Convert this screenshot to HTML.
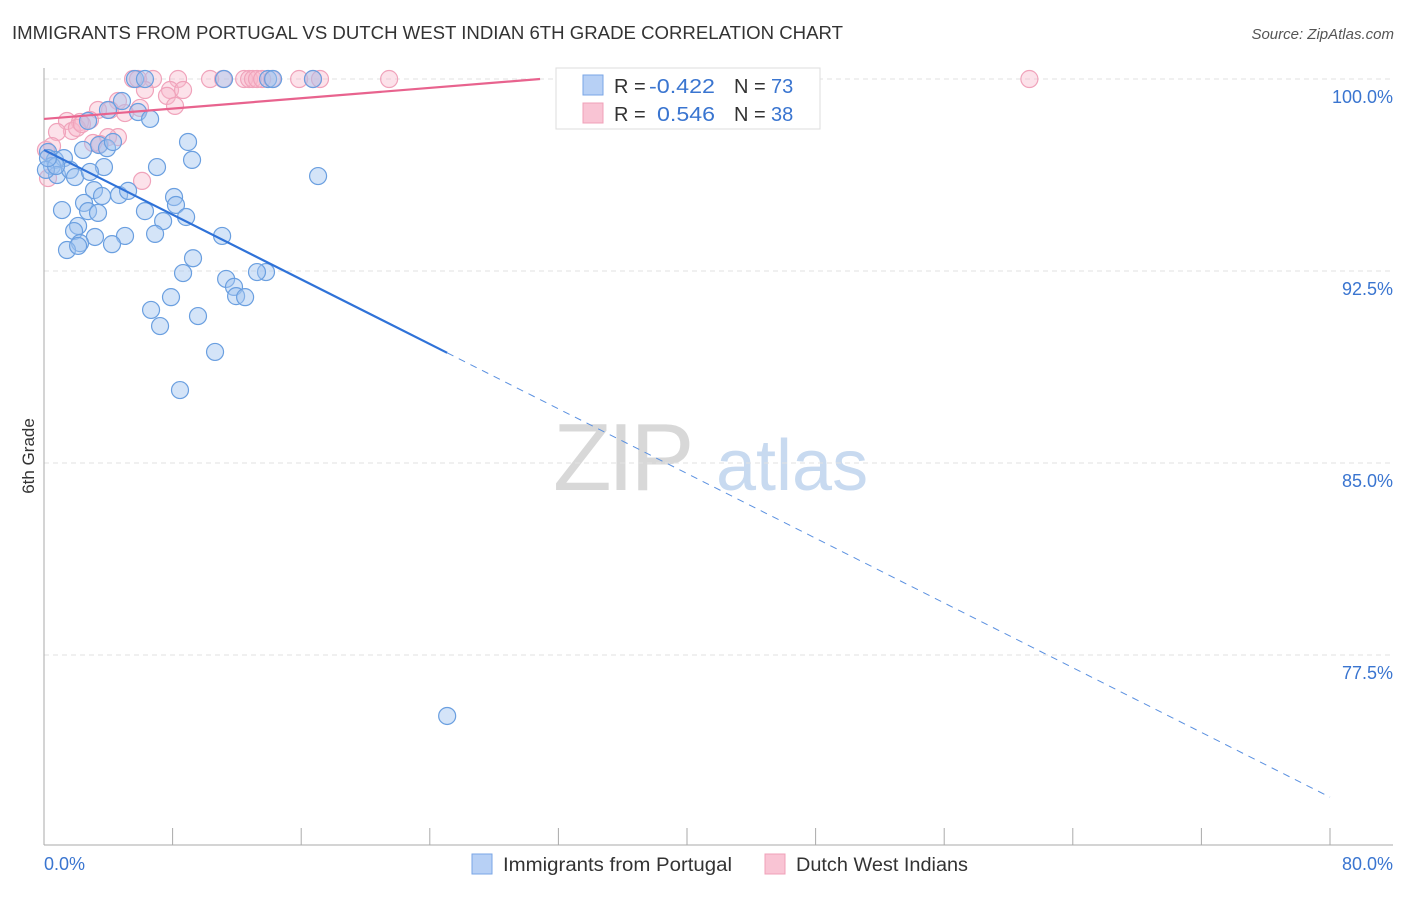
<!DOCTYPE html>
<html><head><meta charset="utf-8">
<style>
body{margin:0;background:#fff;font-family:"Liberation Sans",sans-serif;}
svg text{font-family:"Liberation Sans",sans-serif;}
</style></head>
<body>
<svg id="chart" width="1406" height="892" xmlns="http://www.w3.org/2000/svg">
<text x="12" y="39" font-size="18" fill="#333" textLength="831" lengthAdjust="spacingAndGlyphs">IMMIGRANTS FROM PORTUGAL VS DUTCH WEST INDIAN 6TH GRADE CORRELATION CHART</text>
<text x="1394" y="39" font-size="15" fill="#555" text-anchor="end" font-style="italic">Source: ZipAtlas.com</text>
<g>
<text x="553" y="490" font-size="96" fill="#d8d8d8" font-family="Liberation Serif" letter-spacing="-4">ZIP</text>
<text x="716" y="490" font-size="72" fill="#c8daf0">atlas</text>
</g>
<text transform="translate(34,456) rotate(-90)" font-size="17" fill="#333" text-anchor="middle">6th Grade</text>
<g id="grid"></g>
<g id="axes"></g>
<g id="marks"></g>
<g>
<rect x="556" y="68" width="264" height="61" fill="#fff" stroke="#ddd"/>
<rect x="583" y="75" width="20" height="20" fill="#b7d0f5" stroke="#7aa6e6"/>
<rect x="583" y="103" width="20" height="20" fill="#f9c4d4" stroke="#f0a0b8"/>
<text x="614" y="93" font-size="20" fill="#333">R = </text>
<text x="649" y="93" font-size="20" fill="#3a75d0" textLength="66" lengthAdjust="spacingAndGlyphs">-0.422</text>
<text x="734" y="93" font-size="20" fill="#333">N = </text>
<text x="771" y="93" font-size="20" fill="#3a75d0">73</text>
<text x="614" y="121" font-size="20" fill="#333">R = </text>
<text x="657" y="121" font-size="20" fill="#3a75d0" textLength="58" lengthAdjust="spacingAndGlyphs">0.546</text>
<text x="734" y="121" font-size="20" fill="#333">N = </text>
<text x="771" y="121" font-size="20" fill="#3a75d0">38</text>
</g>
<g>
<rect x="472" y="854" width="20" height="20" fill="#b7d0f5" stroke="#7aa6e6"/>
<text x="503" y="871" font-size="19" fill="#333" textLength="229" lengthAdjust="spacingAndGlyphs">Immigrants from Portugal</text>
<rect x="765" y="854" width="20" height="20" fill="#f9c4d4" stroke="#f0a0b8"/>
<text x="796" y="871" font-size="19" fill="#333" textLength="172" lengthAdjust="spacingAndGlyphs">Dutch West Indians</text>
</g>
</svg>
<script>
const xTicks=[0,8,16,24,32,40,48,56,64,72,80];
const yTicks=[100,92.5,85,77.5];
const yTickLabels=["100.0%","92.5%","85.0%","77.5%"];
const blueX=[5.66,6.28,11.2,13.94,14.25,16.73,25.08,4.85,3.98,5.85,6.6,2.74,8.96,3.42,3.92,2.43,4.29,9.21,0.25,0.68,1.24,0.5,0.81,1.62,1.93,3.73,2.86,7.03,17.05,3.11,3.61,4.67,5.23,2.49,8.09,8.21,1.12,2.74,3.36,6.28,8.84,7.41,2.12,1.87,3.17,5.04,6.91,11.08,2.24,1.43,2.12,4.23,9.27,8.65,13.81,13.25,11.33,11.82,11.95,12.51,7.9,6.66,9.58,7.22,10.64,8.46,0.12,0.75,0.25];
const blueY=[100,100,100,100,100,100,75.12,99.14,98.79,98.71,98.44,98.36,97.54,97.42,97.3,97.23,97.54,96.84,97.15,96.84,96.91,96.6,96.25,96.45,96.17,96.56,96.37,96.56,96.21,95.66,95.43,95.47,95.63,95.16,95.39,95.08,94.88,94.84,94.77,94.84,94.61,94.45,94.26,94.06,93.83,93.87,93.95,93.87,93.59,93.32,93.48,93.55,93.0,92.42,92.46,92.46,92.19,91.88,91.52,91.48,91.48,90.98,90.74,90.35,89.34,87.85,96.45,96.6,96.91];
const pinkX=[5.54,5.85,6.78,8.34,10.33,11.14,12.45,12.76,13.0,13.25,13.57,14.19,15.87,16.74,17.17,21.47,35.35,35.66,61.3,4.6,4.11,7.84,6.28,7.65,8.65,8.15,5.97,3.36,2.86,1.43,2.24,1.74,0.81,2.05,4.6,3.98,3.48,3.05,6.1,0.25,0.12,0.5,2.36,5.04];
const pinkY=[100,100,100,100,100,100,100,100,100,100,100,100,100,100,100,100,100,100,100,99.14,98.79,99.57,99.57,99.34,99.57,98.95,98.87,98.79,98.4,98.36,98.32,97.97,97.93,98.09,97.73,97.73,97.46,97.5,96.02,96.13,97.23,97.38,98.24,98.67];
const blueTrend=[97.23,71.95];
const blueSolidEnd=25.08;
const pinkTrend=[98.44,100];
const pinkEnd=30.86;

const X0=44,X1=1330,PR=1393,Y0=845,Y1=68,yMin=70.08,yMax=100.43;
const sx=v=>X0+(v-0)/(80-0)*(X1-X0);
const sy=v=>Y0-(v-yMin)/(yMax-yMin)*(Y0-Y1);
const NS="http://www.w3.org/2000/svg";
function mk(tag,attrs,parent){const e=document.createElementNS(NS,tag);for(const k in attrs)e.setAttribute(k,attrs[k]);parent.appendChild(e);return e;}
const grid=document.getElementById('grid'),axes=document.getElementById('axes'),marks=document.getElementById('marks');
yTicks.forEach((t,i)=>{
 const l=mk('line',{x1:X0,x2:PR,y1:sy(t),y2:sy(t),stroke:'#e2e2e2','stroke-dasharray':'5,4'},grid);
 
 
 const tx=mk('text',{x:1393,y:sy(t)+24,'font-size':18,fill:'#3a75d0','text-anchor':'end'},axes);
 tx.textContent=yTickLabels[i];
 
 
});
const ya=mk('line',{x1:X0,x2:X0,y1:Y1,y2:Y0,stroke:'#aaa'},axes);


const xa=mk('line',{x1:X0,x2:PR,y1:Y0,y2:Y0,stroke:'#aaa'},axes);


xTicks.forEach(t=>{
 const l=mk('line',{x1:sx(t),x2:sx(t),y1:Y0-17,y2:Y0,stroke:'#aaa'},axes);
 
 
});
const xl0=mk('text',{x:44,y:870,'font-size':18,fill:'#3a75d0'},axes);xl0.textContent='0.0%';


const xl1=mk('text',{x:1393,y:870,'font-size':18,fill:'#3a75d0','text-anchor':'end'},axes);xl1.textContent='80.0%';


pinkX.forEach((v,i)=>{
 const c=mk('circle',{cx:sx(v),cy:sy(pinkY[i]),r:8.5,fill:'rgba(248,182,202,0.4)',stroke:'#f0a3bb','stroke-width':1.2},marks);
 
 
});
blueX.forEach((v,i)=>{
 const c=mk('circle',{cx:sx(v),cy:sy(blueY[i]),r:8.5,fill:'rgba(160,196,240,0.45)',stroke:'#6a9fe0','stroke-width':1.2},marks);
 
 
});
const bAt=x=>blueTrend[0]+(blueTrend[1]-blueTrend[0])*x/80;
const bs=mk('line',{x1:sx(0),y1:sy(bAt(0)),x2:sx(blueSolidEnd),y2:sy(bAt(blueSolidEnd)),stroke:'#2f72d8','stroke-width':2.2},marks);


const bd=mk('line',{x1:sx(blueSolidEnd),y1:sy(bAt(blueSolidEnd)),x2:sx(80),y2:sy(bAt(80)),stroke:'#5a90e0','stroke-width':1,'stroke-dasharray':'7,6'},marks);


const ps=mk('line',{x1:sx(0),y1:sy(pinkTrend[0]),x2:sx(pinkEnd),y2:sy(pinkTrend[1]),stroke:'#e8638e','stroke-width':2.2},marks);


</script>
</body></html>
